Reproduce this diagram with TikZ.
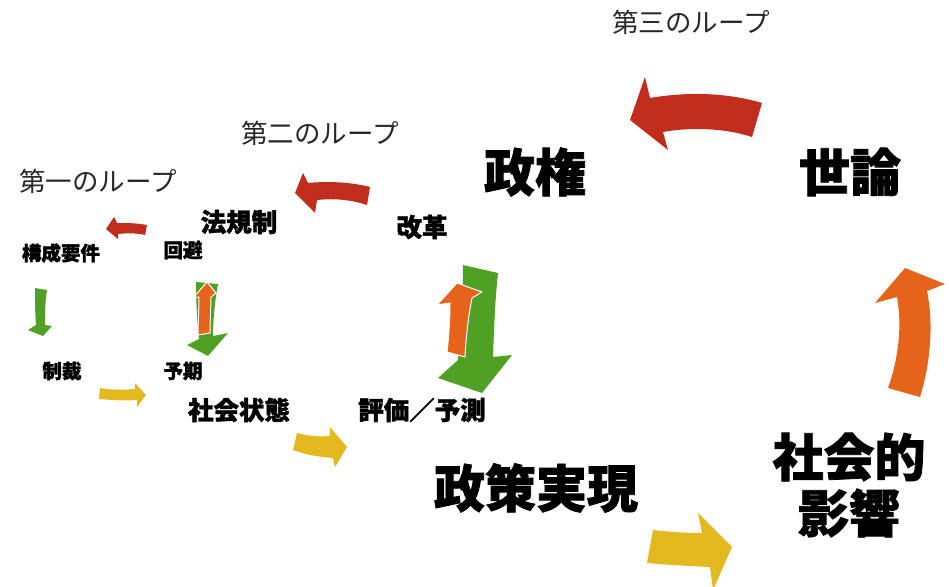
\documentclass[tikz,border=0pt]{standalone}
\usepackage{fontspec}
\setmainfont{Noto Sans CJK JP}
\newfontfamily\heavy{Noto Sans CJK JP}[BoldFeatures={FakeBold=1.5}]
\definecolor{cred}{RGB}{192,45,28}
\definecolor{corange}{RGB}{230,100,25}
\definecolor{cgreen}{RGB}{80,160,35}
\definecolor{cyellow}{RGB}{228,185,32}
\definecolor{cloop}{RGB}{40,40,40}
\tikzset{
  looplbl/.style={text=cloop,inner sep=0pt,font=\fontsize{26.5}{26.5}\selectfont},
  biglbl/.style={text=black,inner sep=0pt,align=center,font=\heavy\bfseries\fontsize{51}{56}\selectfont},
  midlbl/.style={text=black,inner sep=0pt,font=\heavy\bfseries\fontsize{25.5}{25.5}\selectfont},
  smalllbl/.style={text=black,inner sep=0pt,font=\heavy\bfseries\fontsize{19.5}{19.5}\selectfont},
  inner/.style={draw=white,line width=1pt,line join=round}
}
\begin{document}
\begin{tikzpicture}[x=1pt,y=-1pt]
\useasboundingbox (0,0) rectangle (949,586);
\fill[white] (0,0) rectangle (949,586);
% labels
\node[looplbl] (l3) at (691,22) {第三のループ};
\node[looplbl] (l2) at (320,133) {第二のループ};
\node[looplbl] (l1) at (98,181) {第一のループ};
\node[biglbl] (seiken) at (535,172) {政権};
\node[biglbl] (yoron) at (850,172) {世論};
\node[biglbl] (seisaku) at (536,488) {政策実現};
\node[biglbl] (eikyo) at (849,485) {社会的\\影響};
\node[midlbl] (houkisei) at (239,222) {法規制};
\node[midlbl] (kaikaku) at (422,227) {改革};
\node[midlbl] (shakai) at (239,410) {社会状態};
\node[midlbl] (hyouka) at (422,410) {評価／予測};
\node[smalllbl] (kousei) at (61,253) {構成要件};
\node[smalllbl] (kaihi) at (183,250) {回避};
\node[smalllbl] (seisai) at (62,371) {制裁};
\node[smalllbl] (yoki) at (183,371) {予期};
% red arrows
\fill[cred] (762,103) .. controls (725,92) and (685,92) .. (650,98) -- (645,77) -- (630,120) -- (668,150) -- (663,132) .. controls (690,127) and (725,128) .. (752,137) -- cycle;
\fill[cred] (370,187) .. controls (350,182) and (328,181) .. (308,183) -- (303,173) -- (295,193) -- (315,213) -- (317,200) .. controls (335,198) and (352,200) .. (367,205) -- cycle;
\fill[cred] (147,225) .. controls (137,223) and (126,223) .. (117,223) -- (114,217) -- (106,229) -- (118,239) -- (118,234) .. controls (127,233) and (137,233) .. (145,235) -- cycle;
% small green left
\fill[cgreen] (35,288) -- (47,290) .. controls (45,302) and (45,314) .. (45,325) -- (52,326) -- (43,336) -- (28,330) -- (36,325) .. controls (35,312) and (35,300) .. (35,288) -- cycle;
% yellow arrows
\fill[cyellow] (100,388) .. controls (112,390) and (124,390) .. (135,389) -- (135,383) -- (146,395) -- (137,407) -- (137,400) .. controls (124,401) and (111,400) .. (99,399) -- cycle;
\fill[cyellow] (297,433) .. controls (308,436) and (320,437) .. (330,436) -- (330,427) -- (347,447) -- (335,467) -- (333,458) .. controls (320,457) and (306,455) .. (293,450) -- cycle;
\fill[cyellow] (653,530) .. controls (670,532) and (686,533) .. (702,533) -- (698,513) -- (732,547) -- (713,590) -- (710,567) .. controls (690,566) and (668,565) .. (647,563) -- cycle;
% green/orange at yoki
\fill[cgreen] (196,282) -- (218,284) .. controls (215,300) and (213,320) .. (213,336) -- (228,333) -- (208,356) -- (187,345) -- (199,339) .. controls (197,320) and (196,300) .. (196,282) -- cycle;
\filldraw[corange,inner] (198,335) -- (210,333) .. controls (210,320) and (211,305) .. (211,297) -- (216,293) -- (207,282) -- (194,297) -- (199,297) .. controls (199,310) and (198,322) .. (198,335) -- cycle;
% green/orange center
\fill[cgreen] (463,265) -- (498,273) .. controls (495,300) and (494,330) .. (493,357) -- (512,355) -- (482,393) -- (438,378) -- (458,360) .. controls (461,330) and (463,298) .. (463,265) -- cycle;
\filldraw[corange,inner] (457,283) -- (482,292) -- (472,298) .. controls (468,318) and (466,338) .. (465,357) -- (447,352) .. controls (449,335) and (450,318) .. (450,303) -- (437,305) -- cycle;
% big orange right
\fill[corange] (905,268) -- (945,284) -- (927,291) .. controls (934,325) and (930,365) .. (920,397) -- (888,388) .. controls (899,357) and (902,325) .. (897,297) -- (875,303) -- cycle;
\end{tikzpicture}
\end{document}
